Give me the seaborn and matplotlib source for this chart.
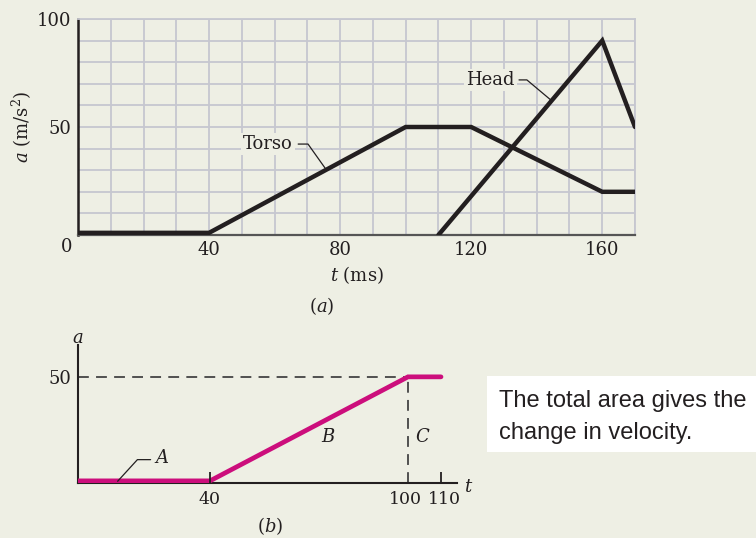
import matplotlib
matplotlib.use("Agg")
import matplotlib.pyplot as plt
import matplotlib.transforms as mtransforms
import seaborn as sns
import numpy as np
import pandas as pd
from matplotlib.patches import Rectangle

# ---------------- data ----------------
torso_t = [0, 40, 100, 120, 160, 170]
torso_a = [1, 1, 50, 50, 20, 20]
head_t = [110, 160, 170]
head_a = [0, 90, 50]

b_t = [0, 40, 100, 110]
b_a = [1, 1, 50, 50]

top_xticks = [40, 80, 120, 160]
top_yticks = [50, 100]
bot_xticks = [40, 100, 110]
bot_yticks = [50]

note_lines = ["The total area gives the", "change in velocity."]

# ---------------- style ----------------
BG = "#EEEFE4"
INK = "#231F20"
GRID = "#C6C7CF"
PINK = "#CC0E7C"

sns.set_theme(style="white")
plt.rcParams["font.family"] = ["DejaVu Serif"]
plt.rcParams["mathtext.fontset"] = "dejavuserif"
plt.rcParams["text.color"] = INK
plt.rcParams["axes.labelcolor"] = INK
plt.rcParams["xtick.color"] = INK
plt.rcParams["ytick.color"] = INK

W, H = 756, 538
fig = plt.figure(figsize=(W / 100, H / 100), dpi=100, facecolor=BG)

def px_axes(x0, y0, x1, y1):
    return fig.add_axes([x0 / W, 1 - y1 / H, (x1 - x0) / W, (y1 - y0) / H])

# ---------------- top chart (a) ----------------
ax = px_axes(78, 19, 635, 235)
ax.set_facecolor(BG)
df_torso = pd.DataFrame({"t": torso_t, "a": torso_a})
df_head = pd.DataFrame({"t": head_t, "a": head_a})
sns.lineplot(data=df_torso, x="t", y="a", ax=ax, color=INK, lw=3.2, sort=False,
             solid_joinstyle="miter", zorder=5)
sns.lineplot(data=df_head, x="t", y="a", ax=ax, color=INK, lw=3.2, sort=False,
             solid_joinstyle="miter", zorder=5)
ax.set_xlim(0, 170)
ax.set_ylim(0, 100)
ax.set_xticks(top_xticks)
ax.set_yticks(top_yticks)
ax.set_xticks(np.arange(0, 171, 10), minor=True)
ax.set_yticks(np.arange(0, 101, 10), minor=True)
ax.grid(True, which="both", color=GRID, lw=1.3, zorder=0)
ax.set_axisbelow(True)
ax.tick_params(which="both", length=0, labelsize=13)
ax.tick_params(axis="x", pad=4)
ax.tick_params(axis="y", pad=5)
for s in ["top", "right"]:
    ax.spines[s].set_color(GRID)
    ax.spines[s].set_linewidth(1.3)
ax.spines["left"].set_color(INK)
ax.spines["left"].set_linewidth(1.8)
ax.spines["bottom"].set_color("#555555")
ax.spines["bottom"].set_linewidth(1.6)
ax.set_xlabel("$t$ (ms)", fontsize=13, labelpad=4)
ax.set_ylabel("$a$ (m/s$^2$)", fontsize=13, labelpad=2)
ax.text(-3.4, -5.6, "0", ha="center", va="center", fontsize=13, clip_on=False)

box = dict(facecolor=BG, edgecolor="none", pad=1.5)
ax.text(58, 42.1, "Torso", ha="center", va="center", fontsize=13, bbox=box, zorder=4)
ax.plot([67.2, 70.2, 75.4], [42.1, 42.1, 31], color=INK, lw=0.9, zorder=4)
ax.text(125.8, 71.8, "Head", ha="center", va="center", fontsize=13, bbox=box, zorder=4)
ax.plot([134.6, 137.0, 144.7], [71.8, 71.8, 62], color=INK, lw=0.9, zorder=4)

fig.text(322 / W, 1 - 306 / H, "($a$)", ha="center", va="center", fontsize=13)

# ---------------- bottom chart (b) ----------------
bx = px_axes(78, 345, 457.5, 483)
bx.set_facecolor(BG)
bx.set_xlim(0, 115)
bx.set_ylim(0, 65)
bx.plot([0, b_t[2]], [b_a[2], b_a[2]], color="#444444", lw=1.3, dashes=(6, 4), zorder=2)
bx.plot([b_t[2], b_t[2]], [0, b_a[2]], color="#444444", lw=1.3, dashes=(6, 4), zorder=2)
df_b = pd.DataFrame({"t": b_t, "a": b_a})
sns.lineplot(data=df_b, x="t", y="a", ax=bx, color=PINK, lw=3.4, sort=False,
             solid_joinstyle="miter", zorder=5)
bx.set_xticks(bot_xticks)
bx.set_yticks(bot_yticks)
bx.tick_params(axis="x", bottom=True, direction="in", length=8, width=1.3,
               labelsize=12.5, pad=6)
bx.tick_params(axis="y", left=False, length=0, labelsize=13, pad=5)
bx.xaxis.get_major_ticks()[1].tick1line.set_visible(False)
bx.xaxis.set_zorder(6)
labs = bx.get_xticklabels()
labs[1].set_transform(labs[1].get_transform() +
                      mtransforms.ScaledTranslation(-3 / 100, 0, fig.dpi_scale_trans))
labs[2].set_transform(labs[2].get_transform() +
                      mtransforms.ScaledTranslation(3 / 100, 0, fig.dpi_scale_trans))
for s in ["top", "right"]:
    bx.spines[s].set_visible(False)
for s in ["left", "bottom"]:
    bx.spines[s].set_color(INK)
    bx.spines[s].set_linewidth(1.5)
bx.set_xlabel("")
bx.set_ylabel("")
bx.text(0, 68.4, "$a$", ha="center", va="center", fontsize=13, clip_on=False)
bx.text(118.5, -2, "$t$", ha="center", va="center", fontsize=13, clip_on=False)
bx.text(25.5, 11.8, "$A$", ha="center", va="center", fontsize=13)
bx.plot([12, 18, 22], [0.8, 11, 11], color=INK, lw=0.9, zorder=6)
bx.text(76, 21.7, "$B$", ha="center", va="center", fontsize=13)
bx.text(104.5, 21.7, "$C$", ha="center", va="center", fontsize=13)

fig.text(270 / W, 1 - 526 / H, "($b$)", ha="center", va="center", fontsize=13)

# ---------------- note box ----------------
fig.patches.append(Rectangle((487 / W, 1 - 452 / H), (W - 487) / W, 76 / H,
                             transform=fig.transFigure, facecolor="white",
                             edgecolor="none", zorder=0))
fig.text(499 / W, 1 - 407 / H, note_lines[0], ha="left", va="baseline",
         fontsize=17, family=["Liberation Sans"], color=INK)
fig.text(499 / W, 1 - 439 / H, note_lines[1], ha="left", va="baseline",
         fontsize=17, family=["Liberation Sans"], color=INK)

fig.savefig("out.png", dpi=100, facecolor=BG)
